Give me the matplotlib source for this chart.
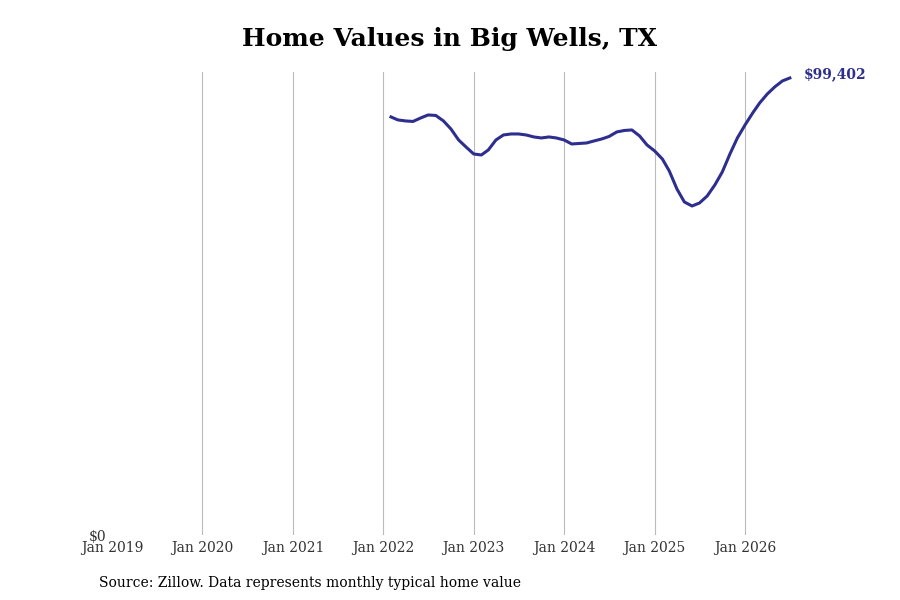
import matplotlib
matplotlib.use("Agg")
import matplotlib.pyplot as plt
import pandas as pd

plt.rcParams['font.family'] = ['DejaVu Serif']

start = "2022-02-01"
values = [90930, 90280, 90060, 89950, 90710, 91360, 91250, 90060, 88320, 85930, 84400,
          82880, 82660, 83750, 85930, 87010, 87230, 87230, 87010, 86580, 86360, 86580, 86360,
          85930, 85050, 85160, 85270, 85710, 86140, 86690, 87670, 87990, 88100, 86800, 84840,
          83530, 81790, 79180, 75260, 72440, 71570, 72220, 73740, 76140, 78960, 82880, 86360,
          89190, 91800, 93970, 95930, 97460, 98760, 99402]
dates = pd.date_range(start, periods=len(values), freq="MS")
tick_years = list(range(2019, 2027))
color = "#2e2e8f"

fig, ax = plt.subplots(figsize=(9, 6), dpi=100)
fig.subplots_adjust(left=0.1244, right=0.89, top=0.88, bottom=0.108)
ax.plot(dates, values, color=color, lw=2.2)
ax.set_xlim(pd.Timestamp("2019-01-01"), pd.Timestamp("2026-08-15"))
ax.set_ylim(0, 100700)
ticks = [pd.Timestamp(f"{y}-01-01") for y in tick_years]
ax.set_xticks(ticks)
ax.set_xticklabels([f"Jan {y}" for y in tick_years], fontsize=10, color="#333333")
ax.set_yticks([0])
ax.set_yticklabels(["$0"], fontsize=10, color="#333333")
ax.tick_params(axis="x", length=0, pad=4)
ax.tick_params(axis="y", length=0, pad=4)
ax.grid(axis="x", color="#bbbbbb", lw=0.8)
ax.get_xgridlines()[0].set_visible(False)
for s in ax.spines.values():
    s.set_visible(False)
ax.annotate(f"${values[-1]:,}", (dates[-1], values[-1]), xytext=(10, 3),
            textcoords="offset points", color=color, fontsize=10, fontweight="bold", va="center")
fig.suptitle("Home Values in Big Wells, TX", fontsize=18, fontweight="bold", y=0.955)
fig.text(0.11, 0.022, "Source: Zillow. Data represents monthly typical home value", fontsize=10)
fig.savefig("out.png")
